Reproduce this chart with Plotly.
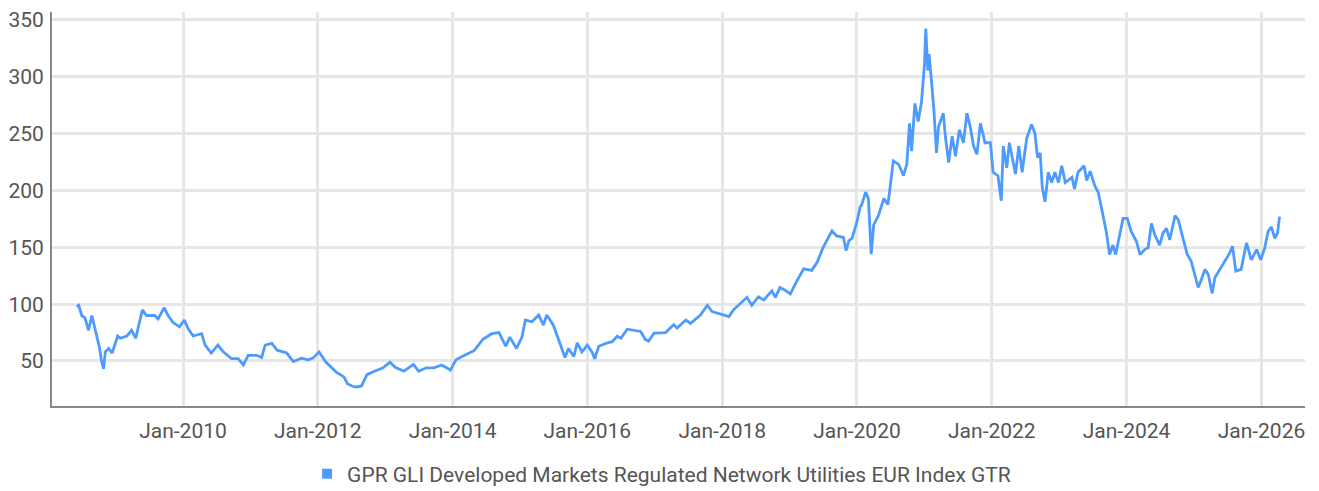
import plotly.graph_objects as go

dates = [
    "2008-06-03", "2008-06-15", "2008-07-01", "2008-07-19", "2008-08-07", "2008-08-25", "2008-09-13",
    "2008-10-05", "2008-10-15", "2008-10-27", "2008-11-06", "2008-11-24", "2008-12-13",
    "2009-01-12", "2009-01-26", "2009-03-03", "2009-03-28", "2009-04-20", "2009-05-08", "2009-05-26",
    "2009-06-17", "2009-08-01", "2009-08-19", "2009-09-21", "2009-10-12", "2009-11-07", "2009-12-13",
    "2010-01-08", "2010-01-30", "2010-02-25", "2010-04-12", "2010-05-01", "2010-06-03", "2010-07-09",
    "2010-08-07", "2010-09-21", "2010-10-27", "2010-11-24", "2010-12-20",
    "2011-02-03", "2011-03-03", "2011-03-22", "2011-04-27", "2011-05-26", "2011-07-17", "2011-08-22",
    "2011-10-05", "2011-11-10", "2011-12-06",
    "2012-01-08", "2012-02-14", "2012-04-12", "2012-05-22", "2012-06-10", "2012-07-05", "2012-07-27",
    "2012-08-25", "2012-09-24", "2012-11-03", "2012-12-20",
    "2013-01-26", "2013-02-24", "2013-04-12", "2013-06-03", "2013-07-01", "2013-08-11", "2013-09-21",
    "2013-11-03", "2013-12-20",
    "2014-01-19", "2014-03-07", "2014-04-27", "2014-06-14", "2014-08-01", "2014-09-09", "2014-10-16",
    "2014-11-07", "2014-12-13",
    "2015-01-12", "2015-01-30", "2015-03-07", "2015-04-12", "2015-05-08", "2015-05-26", "2015-07-01",
    "2015-07-23", "2015-08-11", "2015-09-02", "2015-09-21", "2015-10-20", "2015-11-07", "2015-12-03",
    "2016-01-01", "2016-01-26", "2016-02-10", "2016-03-03", "2016-04-20", "2016-05-15", "2016-06-10",
    "2016-07-01", "2016-08-04", "2016-09-09", "2016-10-16", "2016-11-10", "2016-11-28", "2016-12-28",
    "2017-02-28", "2017-04-13", "2017-05-01", "2017-06-18", "2017-07-13", "2017-09-06", "2017-10-12",
    "2017-11-07",
    "2018-01-01", "2018-02-06", "2018-03-03", "2018-04-09", "2018-05-15", "2018-06-10", "2018-07-16",
    "2018-08-14", "2018-09-27", "2018-10-16", "2018-11-10", "2018-12-10",
    "2019-01-05", "2019-02-07", "2019-03-18", "2019-05-01", "2019-05-31", "2019-07-02", "2019-08-19",
    "2019-09-13", "2019-09-24", "2019-10-20", "2019-11-03", "2019-11-18", "2019-12-06",
    "2020-01-01", "2020-01-19", "2020-01-26", "2020-02-17", "2020-03-03", "2020-03-18", "2020-04-01",
    "2020-04-27", "2020-05-26", "2020-06-17", "2020-07-16", "2020-08-14", "2020-09-09", "2020-09-27",
    "2020-10-12", "2020-10-23", "2020-11-10", "2020-11-28", "2020-12-16",
    "2021-01-01", "2021-01-08", "2021-01-19", "2021-01-26", "2021-02-06", "2021-02-21", "2021-03-07",
    "2021-03-18", "2021-04-13", "2021-04-24", "2021-05-12", "2021-05-31", "2021-06-18", "2021-07-09",
    "2021-07-31", "2021-08-19", "2021-09-06", "2021-09-24", "2021-10-12", "2021-10-31", "2021-11-25",
    "2021-12-24",
    "2022-01-08", "2022-02-03", "2022-02-21", "2022-03-04", "2022-03-23", "2022-04-06", "2022-05-09",
    "2022-05-27", "2022-06-14", "2022-07-09", "2022-08-04", "2022-08-22", "2022-09-06", "2022-09-20",
    "2022-10-01", "2022-10-16", "2022-11-03", "2022-11-21", "2022-12-09", "2022-12-28",
    "2023-01-15", "2023-02-03", "2023-03-11", "2023-03-25", "2023-04-13", "2023-05-16", "2023-05-30",
    "2023-06-18", "2023-07-13", "2023-07-31", "2023-08-19", "2023-09-02", "2023-09-13", "2023-10-01",
    "2023-10-19", "2023-11-03", "2023-11-25", "2023-12-13",
    "2024-01-05", "2024-01-26", "2024-02-24", "2024-03-14", "2024-04-08", "2024-04-27", "2024-05-15",
    "2024-06-02", "2024-06-28", "2024-07-16", "2024-08-04", "2024-08-22", "2024-09-20", "2024-10-08",
    "2024-10-23", "2024-11-10", "2024-11-25", "2024-12-16",
    "2025-01-05", "2025-01-23", "2025-02-10", "2025-03-01", "2025-03-19", "2025-04-09", "2025-04-24",
    "2025-05-20", "2025-06-18", "2025-07-13", "2025-07-28", "2025-08-15", "2025-09-13", "2025-10-12",
    "2025-11-07", "2025-12-06", "2025-12-28",
    "2026-01-19", "2026-02-06", "2026-02-24", "2026-03-14", "2026-03-29", "2026-04-09",
]

values = [
    98, 99, 90, 88, 77, 90, 77,
    62, 51, 43, 58, 61, 57,
    72, 70, 72, 77, 70, 83, 95,
    90, 90, 87, 97, 90, 84, 80,
    86, 78, 72, 74, 64, 57, 64,
    58, 52, 52, 46.5, 55,
    55, 53, 64, 65.5, 59.5, 57, 49.5,
    52.5, 51, 52.5,
    58, 49, 40, 36, 30, 28, 27,
    28, 38, 41, 44,
    49, 44.5, 41, 47, 41, 44, 44,
    46.5, 42,
    51, 55, 59, 69, 74, 75, 63,
    71, 61,
    71, 86, 84.5, 90.5, 81.5, 90.5, 81.5,
    72, 62, 53, 61, 54, 66, 58,
    64, 58, 52, 63, 66, 67, 71.7,
    70, 78, 77, 76, 69, 67.5, 74.6,
    75, 82, 79, 86, 83, 90.6, 99,
    93.5,
    90.6, 89, 95, 100.7, 106, 99, 106.5,
    103.6, 111.7, 106, 114.6, 112,
    109, 119.6, 131, 129.7, 137, 150, 164.5,
    160, 159.5, 158.7, 147, 155.8, 158,
    172.5, 186, 187, 198.5, 193, 144, 169.7,
    178, 193, 187.6, 226, 223, 213, 223,
    259, 234.7, 276.6, 260.7, 278,
    311, 342.5, 305.5, 320, 299.7, 270.8, 233,
    256, 268, 247.7, 224.6, 247.7, 230, 253.5,
    242, 268, 256, 239, 231.8, 259, 242,
    242,
    216, 213, 191, 239, 220, 242, 214.5,
    239, 216, 246, 258, 250.6, 229, 233,
    203, 190, 216, 207, 216, 207,
    221.7, 207, 211.6, 201.4, 216, 221.7, 208.7,
    217, 204, 198.6, 184, 172.5, 164, 143.6,
    152, 143.6, 161, 175.4,
    175.4, 164, 155, 143.6, 148, 149.5, 171,
    161, 152, 162.4, 166.8, 156.6, 178, 174,
    164, 152, 143.6, 138,
    126, 114.7, 122, 130.6, 126, 109.5, 123.4,
    130.6, 138, 145, 151, 129, 130.6, 153.8,
    139, 148, 139,
    149.5, 164, 168, 158, 162.4, 177,
]

series_name = "GPR GLI Developed Markets Regulated Network Utilities EUR Index GTR"
line_color = "#4d9bff"
font_family = "Roboto, 'Noto Sans', sans-serif"

fig = go.Figure()
fig.add_trace(go.Scatter(
    x=dates, y=values, mode="lines", name=series_name,
    line=dict(color=line_color, width=2.8),
    legendgroup="s", showlegend=False,
))
fig.add_trace(go.Scatter(
    x=[None], y=[None], mode="markers", name=series_name,
    marker=dict(symbol="square", size=10, color=line_color),
    legendgroup="s", showlegend=True,
))

fig.update_layout(
    width=1311, height=483,
    margin=dict(l=44, r=14, t=4, b=85),
    plot_bgcolor="white", paper_bgcolor="white",
    font=dict(family=font_family, size=21, color="#555555"),
    legend=dict(
        orientation="h", x=0.4865, xanchor="center",
        yref="container", y=0.035, yanchor="middle",
        font=dict(size=21, color="#555555"), itemwidth=30,
    ),
    xaxis=dict(
        type="date",
        range=["2008-01-22", "2026-08-25"],
        tick0="2010-01-01", dtick="M24", tickformat="%b-%Y",
        showgrid=True, gridcolor="#e6e6e6", gridwidth=2.5,
        showline=True, linecolor="#888888", linewidth=2,
        ticks="", ticklabelstandoff=5, zeroline=False, automargin=False,
        ticklabeloverflow="allow",
    ),
    yaxis=dict(
        range=[10.4, 357.0],
        tick0=50, dtick=50,
        showgrid=True, gridcolor="#e6e6e6", gridwidth=2.5,
        showline=True, linecolor="#888888", linewidth=2,
        ticks="", ticklabelstandoff=2, zeroline=False, automargin=False,
        ticklabeloverflow="allow",
    ),
)

fig.write_html("out.html")
